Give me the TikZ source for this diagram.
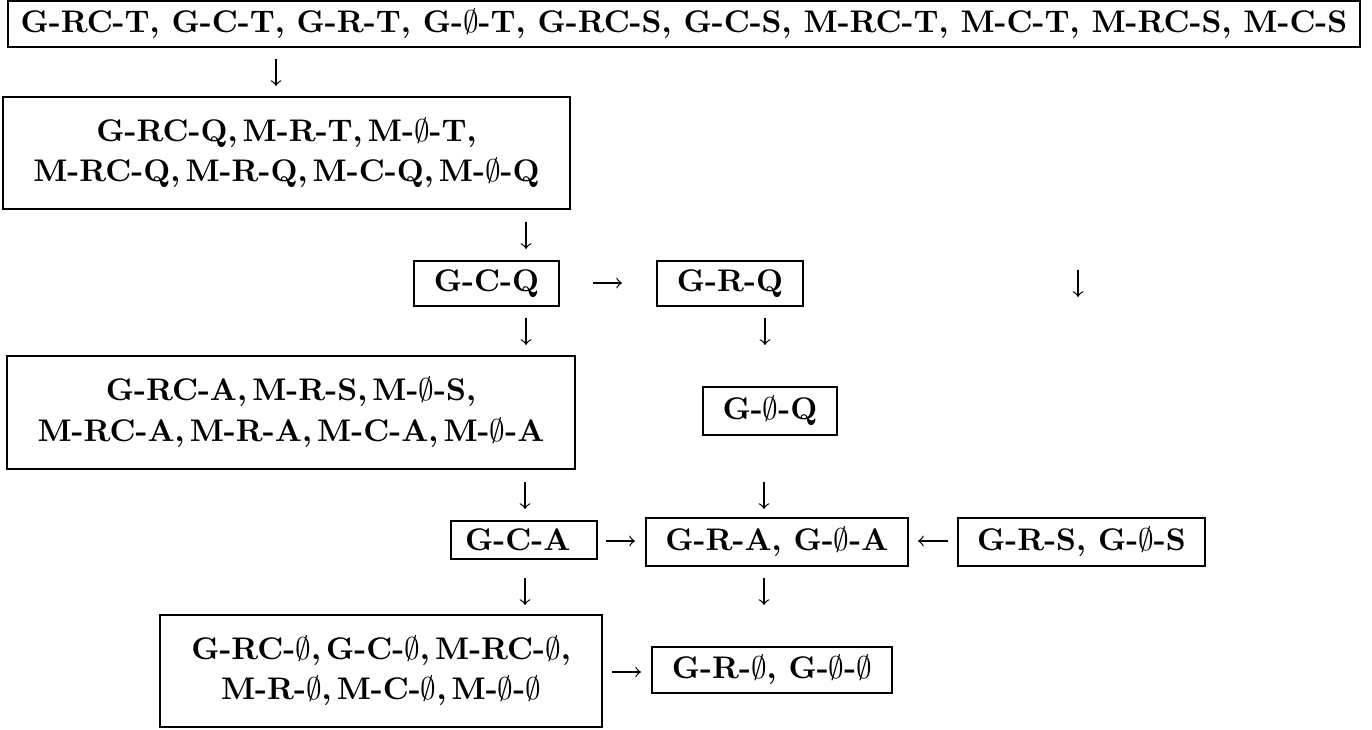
\documentclass[tikz,border=0pt]{standalone}
\usepackage{amsmath}
\usepackage{tikz}

\newcommand{\vid}{\ensuremath{\emptyset}}

\tikzset{
	box/.style={draw=black, line width=0.9pt, inner sep=0pt, align=center, font=\bfseries},
	sz/.style 2 args={minimum width=#1*0.32pt, minimum height=#2*0.32pt},
	arr/.style={->, line width=0.4pt},
}

\begin{document}
\begin{tikzpicture}[x=0.32pt, y=-0.32pt]
	\useasboundingbox (0,0) rectangle (1372,730);

	\node[box, sz={1352}{46}] (top) at (684, 24) {G-RC-T, G-C-T, G-R-T, G-\vid-T, G-RC-S, G-C-S, M-RC-T, M-C-T, M-RC-S, M-C-S};
	\node[box, sz={567}{112}] (rcq) at (286.5, 153) {G-RC-Q,\,M-R-T,\,M-\vid-T,\\[1pt] M-RC-Q,\,M-R-Q,\,M-C-Q,\,M-\vid-Q};
	\node[box, sz={145}{45}] (gcq) at (486.5, 283.5) {G-C-Q};
	\node[box, sz={146}{45}] (grq) at (730, 283.5) {G-R-Q};
	\node[box, sz={568}{113}] (rca) at (291, 412.5) {G-RC-A,\,M-R-S,\,M-\vid-S,\\[1pt] M-RC-A,\,M-R-A,\,M-C-A,\,M-\vid-A};
	\node[box, sz={134}{48}] (gnq) at (770, 411) {G-\vid-Q};
	\node[box, sz={146}{38}, inner xsep=4.5pt, text width=37.7pt, align=left] (gca) at (524, 540) {G-C-A};
	\node[box, sz={262}{48}] (gra) at (777, 542) {G-R-A, G-\vid-A};
	\node[box, sz={247}{48}] (grs) at (1081.5, 542) {G-R-S, G-\vid-S};
	\node[box, sz={442}{112}] (rcn) at (381, 671) {G-RC-\vid,\,G-C-\vid,\,M-RC-\vid,\\[1pt] M-R-\vid,\,M-C-\vid,\,M-\vid-\vid};
	\node[box, sz={240}{46}] (grn) at (772, 670) {G-R-\vid, G-\vid-\vid};

	\coordinate (d1a) at (276, 59);   \coordinate (d1b) at (276, 86);
	\coordinate (d2a) at (526, 222);  \coordinate (d2b) at (526, 249);
	\coordinate (r1a) at (593, 283);  \coordinate (r1b) at (622, 283);
	\coordinate (d0a) at (1078, 270); \coordinate (d0b) at (1078, 297);
	\coordinate (d3a) at (526, 318);  \coordinate (d3b) at (526, 345);
	\coordinate (d4a) at (765, 318);  \coordinate (d4b) at (765, 345);
	\coordinate (d5a) at (525, 482);  \coordinate (d5b) at (525, 509);
	\coordinate (d6a) at (764, 482);  \coordinate (d6b) at (764, 509);
	\coordinate (r2a) at (606, 541);  \coordinate (r2b) at (635, 541);
	\coordinate (l1a) at (948, 541);  \coordinate (l1b) at (918, 541);
	\coordinate (d7a) at (525, 578);  \coordinate (d7b) at (525, 605);
	\coordinate (d8a) at (764, 578);  \coordinate (d8b) at (764, 605);
	\coordinate (r3a) at (612, 672);  \coordinate (r3b) at (641, 672);

	\path[arr] (d1a) edge (d1b);
	\path[arr] (d2a) edge (d2b);
	\path[arr] (r1a) edge (r1b);
	\path[arr] (d0a) edge (d0b);
	\path[arr] (d3a) edge (d3b);
	\path[arr] (d4a) edge (d4b);
	\path[arr] (d5a) edge (d5b);
	\path[arr] (d6a) edge (d6b);
	\path[arr] (r2a) edge (r2b);
	\path[arr] (l1a) edge (l1b);
	\path[arr] (d7a) edge (d7b);
	\path[arr] (d8a) edge (d8b);
	\path[arr] (r3a) edge (r3b);

\end{tikzpicture}
\end{document}
